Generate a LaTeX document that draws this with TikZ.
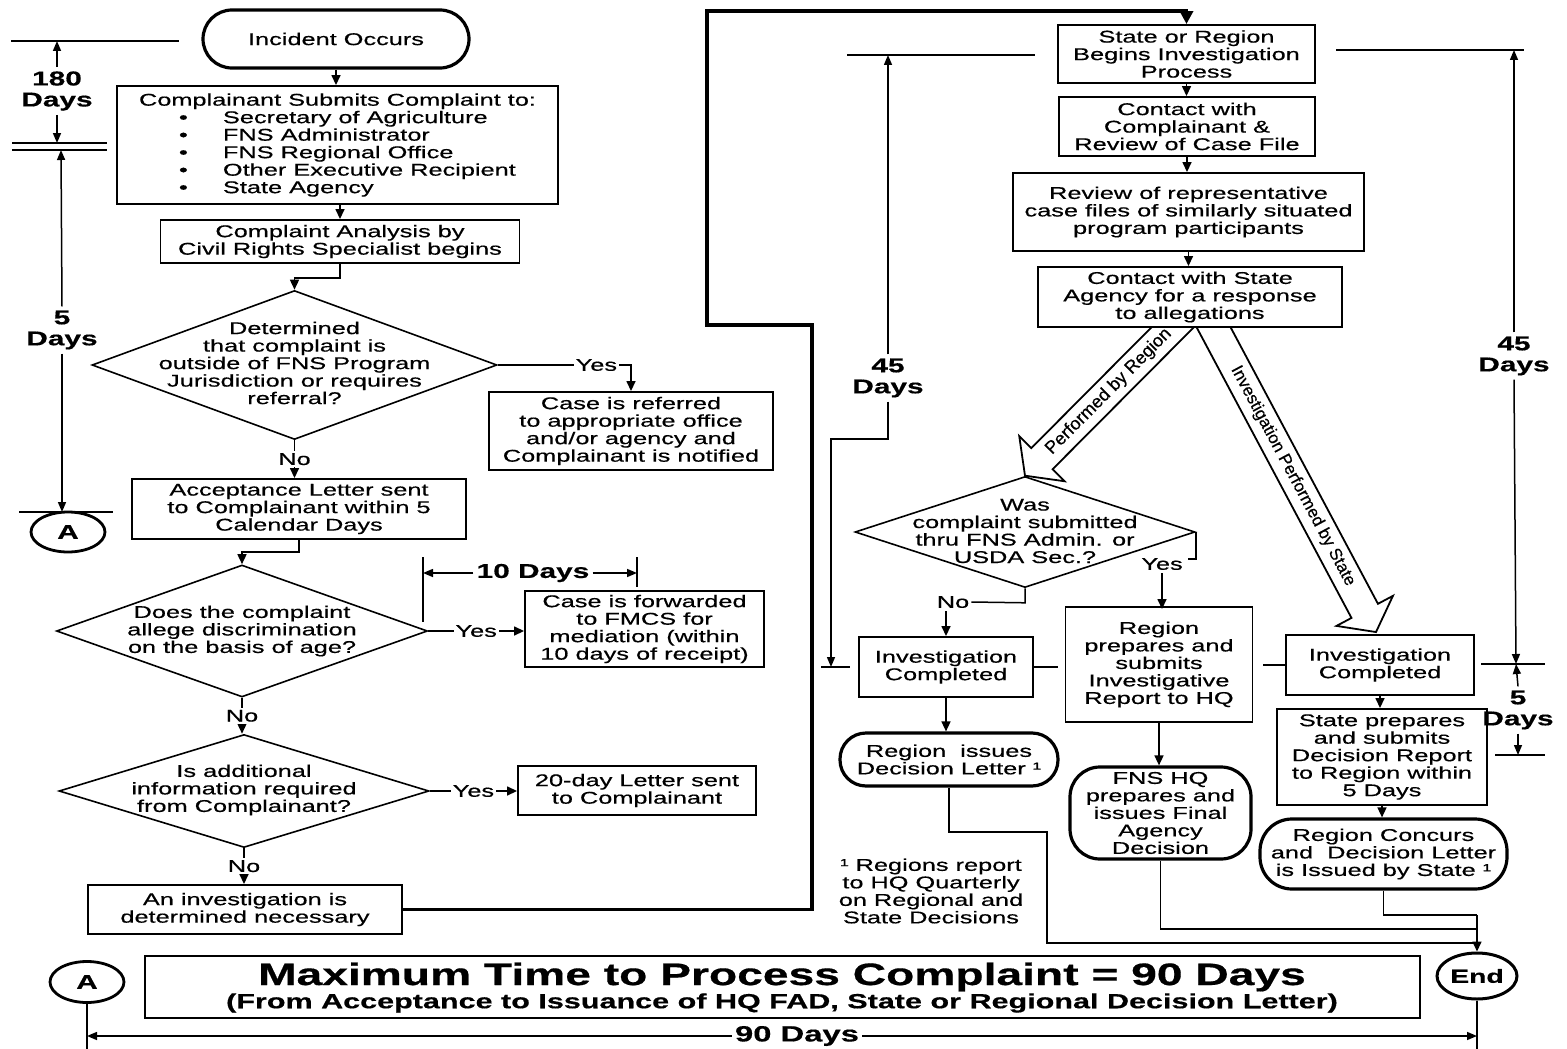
\documentclass[tikz,border=0pt]{standalone}
\usepackage{fontspec}
\setmainfont{Liberation Sans}[FakeStretch=1.49,FakeBold=0.5]
\newfontfamily\arrowfont{Liberation Sans}[FakeBold=0.5]
\usetikzlibrary{arrows.meta,shapes.geometric,calc,backgrounds}
\newcommand\txt{\fontsize{17}{17.5}\selectfont}
\newcommand\dimlab{\fontsize{20}{21}\selectfont\bfseries}
\newcommand\bul{\makebox[84pt][l]{\hspace{40pt}\textbullet}}
\begin{document}
\begin{tikzpicture}[x=1pt,y=-1pt,
  every node/.style={inner sep=0pt, align=center, font=\txt},
  box/.style={draw, fill=white, line width=1.9pt},
  stad/.style={draw, fill=white, line width=3.2pt},
  dia/.style={draw, fill=white, diamond, line width=1.6pt},
  con/.style={line width=1.5pt},
  arr/.style={con, -{Triangle[length=10pt,width=9pt]}},
  thk/.style={line width=3.5pt, -{Triangle[length=13pt,width=13pt]}},
  darr/.style={line width=1.5pt, -{Triangle[length=10pt,width=8pt]}},
  blk/.style={line width=1.8pt, line join=miter},
  lab/.style={fill=white, inner sep=2pt},
  dl/.style={font=\dimlab},
  circ/.style={draw, ellipse, line width=2.8pt, font=\fontsize{20}{20}\selectfont\bfseries},
]
\useasboundingbox (0,0) rectangle (1567,1049);

% ---------------- left column ----------------
\node[stad, rounded corners=29pt, minimum width=266pt, minimum height=58pt] (inc) at (336,39) {Incident Occurs};
\node[box, minimum width=441pt, minimum height=118pt, align=left] (submit) at (337.5,145)
 {Complainant Submits Complaint to:\\\bul Secretary of Agriculture\\\bul FNS Administrator\\\bul FNS Regional Office\\\bul Other Executive Recipient\\\bul State Agency};
\node[box, minimum width=359pt, minimum height=43pt] (analysis) at (340,241.5) {Complaint Analysis by\\Civil Rights Specialist begins};
\node[dia, minimum width=405pt, minimum height=149pt] (d1) at (294.5,365) {};
\node (d1t) at (294.5,363) {Determined\\that complaint is\\outside of FNS Program\\Jurisdiction or requires\\referral?};
\node[box, minimum width=284pt, minimum height=78pt] (refer) at (631,431) {Case is referred\\to appropriate office\\and/or agency and\\Complainant is notified};
\node[box, minimum width=334pt, minimum height=60pt] (accept) at (299,509) {Acceptance Letter sent\\to Complainant within 5\\Calendar Days};
\node[dia, minimum width=371pt, minimum height=132pt] (d2) at (242,631) {};
\node (d2t) at (242,631) {Does the complaint\\allege discrimination\\on the basis of age?};
\node[box, minimum width=239pt, minimum height=76pt] (forward) at (644.5,629) {Case is forwarded\\to FMCS for\\mediation (within\\10 days of receipt)};
\node[dia, minimum width=370pt, minimum height=113pt] (d3) at (244,791) {};
\node (d3t) at (244,790) {Is additional\\information required\\from Complainant?};
\node[box, minimum width=238pt, minimum height=49pt] (letter) at (637,790.5) {20-day Letter sent\\to Complainant};
\node[box, minimum width=314pt, minimum height=49pt] (invest) at (245,909.5) {An investigation is\\determined necessary};

% ---------------- right column ----------------
\node[box, minimum width=257pt, minimum height=58pt] (state) at (1186.5,54) {State or Region\\Begins Investigation\\Process};
\node[box, minimum width=256pt, minimum height=59pt] (contact) at (1187,126.5) {Contact with\\Complainant \&\\Review of Case File};
\node[box, minimum width=351pt, minimum height=78pt] (review) at (1188.5,212) {Review of representative\\case files of similarly situated\\program participants};
\node[box, minimum width=304pt, minimum height=60pt] (agency) at (1190,297) {Contact with State\\Agency for a response\\to allegations};
\node[dia, minimum width=340pt, minimum height=111pt] (d4) at (1025,532) {};
\node (d4t) at (1025,531) {Was\\complaint submitted\\thru FNS Admin. or\\USDA Sec.?};
\node[box, minimum width=174pt, minimum height=60pt] (invL) at (946,667) {Investigation\\Completed};
\node[box, minimum width=187pt, minimum height=115pt] (regprep) at (1159,664.5) {Region\\prepares and\\submits\\Investigative\\Report to HQ};
\node[box, minimum width=188pt, minimum height=60pt] (invR) at (1380,665) {Investigation\\Completed};
\node[box, minimum width=210pt, minimum height=96pt] (stprep) at (1382,757) {State prepares\\and submits\\Decision Report\\to Region within\\5 Days};
\node[stad, rounded corners=26pt, minimum width=218pt, minimum height=53pt] (regiss) at (949,759.5) {Region\ \ issues\\Decision Letter ¹};
\node[stad, rounded corners=30pt, minimum width=181pt, minimum height=92pt] (fnshq) at (1160.5,813) {FNS HQ\\prepares and\\issues Final\\Agency\\Decision};
\node[stad, rounded corners=32pt, minimum width=247pt, minimum height=70pt] (concur) at (1383.5,854) {Region Concurs\\and\ \ Decision Letter\\is Issued by State ¹};
\node (foot) at (931,891) {¹ Regions report\\to HQ Quarterly\\on Regional and\\State Decisions};

% ---------------- bottom ----------------
\node[circ, line width=3pt, minimum width=80pt, minimum height=46pt, font=\fontsize{19}{19}\selectfont\bfseries] (endn) at (1477,976) {End};
\node[circ, minimum width=74pt, minimum height=40pt] (A1) at (68,532) {A};
\node[circ, minimum width=74pt, minimum height=41pt] (A2) at (87,982) {A};
\node[box, line width=2pt, minimum width=1275pt, minimum height=62pt] (title) at (782.5,987) {};
\node[font=\fontsize{31}{32}\selectfont\bfseries] (t1) at (782,977) {Maximum Time to Process Complaint = 90 Days};
\node[font=\fontsize{20.5}{21}\selectfont\bfseries] (t2) at (782,1003) {(From Acceptance to Issuance of HQ FAD, State or Regional Decision Letter)};

% ---------------- block arrows ----------------
\begin{scope}[on background layer]
\coordinate (rV) at ($(agency.south)+(-22,4)$);
\coordinate (rT) at (d4.north);
\coordinate (rS) at ($(rV)!-25pt!(rT)$);
\coordinate (rB) at ($(rT)!24pt!(rV)$);
\draw[blk] ($(rS)!15pt!90:(rT)$) -- ($(rB)!15pt!90:(rT)$) -- ($(rB)!32pt!90:(rT)$) -- (rT)
  -- ($(rB)!32pt!-90:(rT)$) -- ($(rB)!15pt!-90:(rT)$) -- ($(rS)!15pt!-90:(rT)$);
\path (rV) -- (rB) node[pos=0.47, sloped, font=\arrowfont\fontsize{18}{18}\selectfont] (perfR) {Performed by Region};
\coordinate (sV) at ($(agency.south)+(25,2)$);
\coordinate (sT) at ($(invR.north)+(-4,-2)$);
\coordinate (sS) at ($(sV)!-22pt!(sT)$);
\coordinate (sB) at ($(sT)!24pt!(sV)$);
\draw[blk] ($(sS)!15pt!90:(sT)$) -- ($(sB)!15pt!90:(sT)$) -- ($(sB)!32pt!90:(sT)$) -- (sT)
  -- ($(sB)!32pt!-90:(sT)$) -- ($(sB)!15pt!-90:(sT)$) -- ($(sS)!15pt!-90:(sT)$);
\path (sV) -- (sB) node[pos=0.52, sloped, font=\arrowfont\fontsize{17}{17}\selectfont] (perfS) {Investigation Performed by State};
\end{scope}

% ---------------- connectors left ----------------
\draw[arr] (inc.south) -- (inc.south |- submit.north);
\draw[arr] (analysis.north |- submit.south) -- (analysis.north);
\draw[arr] (analysis.south) -- ++(0,14) -| (d1.north);
\draw[arr] (d1.east) -| (refer.north) node[lab, pos=0.37] {Yes};
\draw[arr] (d1.south) -- (d1.south |- accept.north) node[lab, midway] {No};
\draw[arr] (accept.south) -- ++(0,12) -| (d2.north);
\draw[arr] (d2.east) -- (d2.east -| forward.west) node[lab, pos=0.5] {Yes};
\draw[arr] (d2.south) -- (d2.south |- d3.north) node[lab, midway] {No};
\draw[arr] (d3.east) -- (d3.east -| letter.west) node[lab, pos=0.5] {Yes};
\draw[arr] (d3.south) -- (d3.south |- invest.north) node[lab, midway] {No};
\draw[thk] (invest.east) -| (812,325) -| (707,11) -| (state.north);

% ---------------- connectors right ----------------
\draw[arr] (state.south) -- (state.south |- contact.north);
\draw[arr] (contact.south) -- (contact.south |- review.north);
\draw[arr] (review.south) -- (review.south |- agency.north);
\node (yes4) at (1162,564) {Yes};
\draw[con] (d4.east) -- ++(0,27) -- ++(-8,0);
\draw[arr] ([yshift=-3pt]yes4.south) -- ([yshift=-3pt]yes4.south |- regprep.north);
\node (no4) at (953,602) {No};
\draw[con] (d4.south) -- ++(0,14.5) -- ([xshift=2pt]no4.east);
\draw[arr] (invL.north |- no4.south) ++(0,3) -- (invL.north);
\draw[arr] (invL.south) -- (invL.south |- regiss.north);
\draw[arr] (regprep.south) -- (regprep.south |- fnshq.north);
\draw[arr] (invR.south) -- (invR.south |- stprep.north);
\draw[arr] (stprep.south) -- (stprep.south |- concur.north);
\coordinate (m1) at (1477,915);
\draw[con] (regiss.south) |- (1047,832) |- (1477,943);
\draw[con] (fnshq.south) |- (1477,929);
\draw[con] (concur.south) |- (m1);
\draw[arr] (m1) -- (endn.north);
\draw[con] (invL.east) -- ++(24,0);
\draw[con] (invR.west) -- ++(-22,0);

% ---------------- dimensions ----------------
\draw[con] (11,41) -- (179,41);
\node[dl] (l180) at (57,91) {180\\Days};
\draw[darr] (l180.north) ++(0,-4) -- (57,41);
\draw[darr] (l180.south) ++(0,4) -- (57,143);
\draw[con] (12,143) -- (107,143);
\draw[con] (12,150) -- (107,150);
\node[dl] (l5a) at (62,330) {5\\Days};
\draw[darr] (l5a.north) ++(0,-4) -- (61,150);
\draw[darr] (l5a.south) ++(0,4) -- (62,512);
\draw[con] (19,512) -- (113,512);

\node[dl] (l10) at (533,573) {10 Days};
\draw[con] (423,557) -- (423,622);
\draw[con] (637,557) -- (637,587);
\draw[darr] ([xshift=-3pt]l10.west) -- (423,573);
\draw[darr] ([xshift=3pt]l10.east) -- (637,573);

\draw[con] (847,55) -- (1035,55);
\node[dl] (l45a) at (888,378) {45\\Days};
\draw[darr] (l45a.north) ++(0,-4) -- (888,55);
\draw[darr] (l45a.south) ++(0,4) -- (888,439) -- (831,439) -- (831,667);
\draw[con] (821,667) -- (850,667);

\draw[con] (1336,50) -- (1524,50);
\node[dl] (l45b) at (1514,356) {45\\Days};
\draw[darr] (l45b.north) ++(0,-4) -- (1514,50);
\draw[darr] (l45b.south) ++(0,4) -- (1516,664);
\draw[con] (1481,664) -- (1545,664);
\node[dl] (l5b) at (1518,710) {5\\Days};
\draw[darr] (l5b.north) ++(0,-4) -- (1516,664);
\draw[darr] (l5b.south) ++(0,4) -- (1518,755);
\draw[con] (1495,755) -- (1545,755);

\node[dl, font=\fontsize{22}{22}\selectfont\bfseries] (l90) at (797,1036) {90 Days};
\draw[con] (A2.south) -- ++(0,48);
\draw[con] (endn.south) -- ++(0,48);
\draw[darr] ([xshift=-3pt]l90.west) -- (l90.west -| A2.south);
\draw[darr] ([xshift=3pt]l90.east) -- (l90.east -| endn.south);
\end{tikzpicture}
\end{document}
